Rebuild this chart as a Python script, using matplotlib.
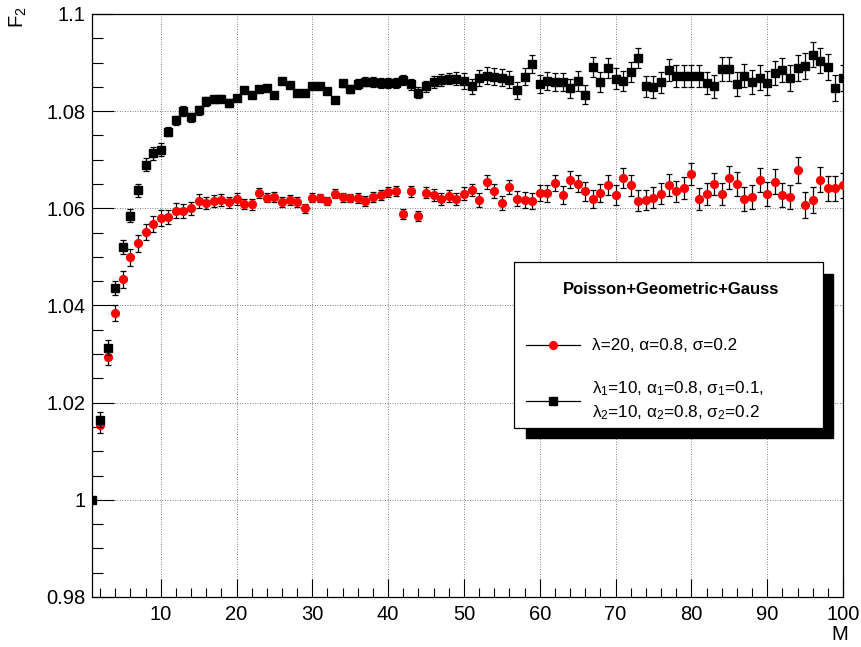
import matplotlib
matplotlib.use("Agg")
import matplotlib.pyplot as plt
from matplotlib.patches import Rectangle
from matplotlib.lines import Line2D
import numpy as np

plt.rcParams['font.family'] = ['Liberation Sans', 'DejaVu Sans']
plt.rcParams['mathtext.fontset'] = 'custom'
plt.rcParams['mathtext.rm'] = 'Liberation Sans'
plt.rcParams['mathtext.it'] = 'Liberation Sans'

M = list(range(1, 101))

# single source: lambda=20, alpha=0.8, sigma=0.2
f2_single = [
    1.0000, 1.0153, 1.0294, 1.0385, 1.0454, 1.0499, 1.0528, 1.0551, 1.0568, 1.0580,
    1.0582, 1.0595, 1.0594, 1.0600, 1.0615, 1.0611, 1.0615, 1.0617, 1.0612, 1.0619,
    1.0609, 1.0608, 1.0632, 1.0622, 1.0624, 1.0613, 1.0617, 1.0613, 1.0600, 1.0622,
    1.0621, 1.0615, 1.0630, 1.0623, 1.0621, 1.0621, 1.0615, 1.0623, 1.0627, 1.0634,
    1.0636, 1.0588, 1.0635, 1.0584, 1.0632, 1.0627, 1.0619, 1.0626, 1.0619, 1.0630,
    1.0638, 1.0617, 1.0654, 1.0636, 1.0611, 1.0644, 1.0620, 1.0617, 1.0615, 1.0632,
    1.0631, 1.0652, 1.0627, 1.0659, 1.0651, 1.0635, 1.0619, 1.0632, 1.0648, 1.0627,
    1.0662, 1.0647, 1.0616, 1.0617, 1.0622, 1.0630, 1.0648, 1.0635, 1.0642, 1.0671,
    1.0619, 1.0630, 1.0650, 1.0630, 1.0663, 1.0650, 1.0619, 1.0623, 1.0659, 1.0630,
    1.0655, 1.0628, 1.0624, 1.0679, 1.0607, 1.0617, 1.0659, 1.0641, 1.0641, 1.0647,
]
err_single = [
    0.0000, 0.0015, 0.0017, 0.0017, 0.0018, 0.0017, 0.0017, 0.0016, 0.0016, 0.0016,
    0.0015, 0.0015, 0.0014, 0.0014, 0.0014, 0.0013, 0.0013, 0.0012, 0.0012, 0.0012,
    0.0011, 0.0011, 0.0010, 0.0010, 0.0010, 0.0010, 0.0010, 0.0010, 0.0009, 0.0009,
    0.0009, 0.0009, 0.0009, 0.0009, 0.0009, 0.0010, 0.0010, 0.0010, 0.0010, 0.0010,
    0.0010, 0.0010, 0.0011, 0.0011, 0.0011, 0.0012, 0.0012, 0.0012, 0.0013, 0.0013,
    0.0013, 0.0014, 0.0014, 0.0014, 0.0015, 0.0015, 0.0015, 0.0016, 0.0016, 0.0017,
    0.0017, 0.0017, 0.0018, 0.0018, 0.0018, 0.0019, 0.0019, 0.0019, 0.0020, 0.0020,
    0.0021, 0.0021, 0.0021, 0.0021, 0.0022, 0.0022, 0.0022, 0.0022, 0.0022, 0.0022,
    0.0023, 0.0023, 0.0023, 0.0023, 0.0024, 0.0024, 0.0024, 0.0024, 0.0025, 0.0025,
    0.0025, 0.0025, 0.0025, 0.0026, 0.0026, 0.0026, 0.0026, 0.0026, 0.0026, 0.0026,
]

# two sources mixed
f2_mixed = [
    1.0000, 1.0165, 1.0313, 1.0436, 1.0520, 1.0585, 1.0637, 1.0690, 1.0713, 1.0721,
    1.0758, 1.0781, 1.0800, 1.0787, 1.0802, 1.0820, 1.0824, 1.0826, 1.0817, 1.0827,
    1.0843, 1.0833, 1.0845, 1.0847, 1.0833, 1.0862, 1.0853, 1.0838, 1.0838, 1.0851,
    1.0851, 1.0842, 1.0823, 1.0857, 1.0846, 1.0856, 1.0861, 1.0860, 1.0858, 1.0858,
    1.0858, 1.0864, 1.0855, 1.0838, 1.0851, 1.0860, 1.0864, 1.0867, 1.0867, 1.0862,
    1.0851, 1.0868, 1.0873, 1.0871, 1.0869, 1.0865, 1.0843, 1.0871, 1.0897, 1.0856,
    1.0862, 1.0860, 1.0860, 1.0847, 1.0862, 1.0834, 1.0891, 1.0860, 1.0889, 1.0867,
    1.0862, 1.0881, 1.0909, 1.0851, 1.0850, 1.0859, 1.0885, 1.0873, 1.0873, 1.0873,
    1.0872, 1.0858, 1.0851, 1.0887, 1.0887, 1.0856, 1.0873, 1.0860, 1.0869, 1.0858,
    1.0878, 1.0885, 1.0868, 1.0889, 1.0893, 1.0916, 1.0904, 1.0891, 1.0847, 1.0868,
]
err_mixed = [
    0.0000, 0.0015, 0.0015, 0.0014, 0.0015, 0.0014, 0.0014, 0.0014, 0.0014, 0.0013,
    0.0010, 0.0010, 0.0010, 0.0010, 0.0009, 0.0009, 0.0008, 0.0008, 0.0008, 0.0006,
    0.0006, 0.0006, 0.0006, 0.0006, 0.0006, 0.0006, 0.0006, 0.0006, 0.0006, 0.0006,
    0.0006, 0.0006, 0.0007, 0.0007, 0.0008, 0.0010, 0.0010, 0.0010, 0.0010, 0.0010,
    0.0010, 0.0011, 0.0011, 0.0011, 0.0011, 0.0012, 0.0012, 0.0012, 0.0013, 0.0016,
    0.0016, 0.0017, 0.0017, 0.0017, 0.0017, 0.0017, 0.0018, 0.0018, 0.0018, 0.0018,
    0.0019, 0.0019, 0.0019, 0.0019, 0.0020, 0.0020, 0.0021, 0.0021, 0.0021, 0.0021,
    0.0021, 0.0021, 0.0021, 0.0022, 0.0022, 0.0022, 0.0023, 0.0023, 0.0023, 0.0023,
    0.0023, 0.0023, 0.0024, 0.0024, 0.0024, 0.0024, 0.0024, 0.0025, 0.0025, 0.0025,
    0.0025, 0.0025, 0.0026, 0.0026, 0.0026, 0.0026, 0.0026, 0.0027, 0.0027, 0.0027,
]

label_single = "λ=20, α=0.8, σ=0.2"
label_mixed_1 = "λ$_1$=10, α$_1$=0.8, σ$_1$=0.1,"
label_mixed_2 = "λ$_2$=10, α$_2$=0.8, σ$_2$=0.2"
legend_title = "Poisson+Geometric+Gauss"

fig = plt.figure(figsize=(8.61, 6.47), dpi=100)
ax = fig.add_axes([0.1074, 0.0773, 0.8717, 0.9011])

ax.errorbar(M, f2_single, yerr=err_single, fmt='o', color='red', mec='red', ms=5.6,
            ecolor='black', elinewidth=0.9, capsize=2, capthick=0.9, zorder=3)
ax.errorbar(M, f2_mixed, yerr=err_mixed, fmt='s', color='black', ms=5.3,
            ecolor='black', elinewidth=0.9, capsize=2, capthick=0.9, zorder=4)

ax.set_xlim(1, 100)
ax.set_ylim(0.98, 1.1)
ax.set_xticks(np.arange(10, 101, 10))
ax.set_xticks(np.arange(2, 101, 2), minor=True)
ax.set_yticks(np.arange(0.98, 1.1001, 0.02))
ax.set_yticks(np.arange(0.98, 1.1001, 0.005), minor=True)
ax.set_yticklabels(['0.98', '1', '1.02', '1.04', '1.06', '1.08', '1.1'])
ax.tick_params(axis='both', which='both', direction='in', labelsize=14.5)
ax.tick_params(axis='x', which='major', length=13, width=0.8, pad=6)
ax.tick_params(axis='x', which='minor', length=6.5, width=0.8)
ax.tick_params(axis='y', which='major', length=16, width=0.8, pad=5)
ax.tick_params(axis='y', which='minor', length=8, width=0.8)
ax.grid(True, which='major', linestyle=(0, (1, 2)), color='#555555', linewidth=0.6)
ax.set_axisbelow(True)
for s in ax.spines.values():
    s.set_linewidth(0.9)

fig.text(840 / 861, 1 - 634 / 647, "M", fontsize=14.5, ha='center', va='center')
fig.text(18 / 861, 1 - 6 / 647, "F$_2$", fontsize=14.5, rotation=90, ha='center', va='top')

# legend box with drop shadow, in pixel coords
def px(x, y):
    return x / 861, 1 - y / 647

fig.patches.append(Rectangle(px(526, 438), 307 / 861, 164 / 647, transform=fig.transFigure,
                             facecolor='black', edgecolor='black', zorder=5))
fig.patches.append(Rectangle(px(514, 428), 309 / 861, 166 / 647, transform=fig.transFigure,
                             facecolor='white', edgecolor='black', linewidth=0.9, zorder=6))

fig.text(*px(671, 290), legend_title, fontsize=12, fontweight='bold', ha='center', va='center', zorder=7)

for yy, mk, col in [(345, 'o', 'red'), (401, 's', 'black')]:
    x0, y0 = px(526, yy)
    x1, _ = px(580, yy)
    xm, _ = px(553, yy)
    fig.add_artist(Line2D([x0, x1], [y0, y0], color='black', linewidth=0.9, transform=fig.transFigure, zorder=7))
    fig.add_artist(Line2D([xm], [y0], marker=mk, color=col, ms=5.5, linestyle='none', transform=fig.transFigure, zorder=8))

fig.text(*px(592, 345), label_single, fontsize=12.3, ha='left', va='center', zorder=7)
fig.text(*px(592, 389), label_mixed_1, fontsize=12.3, ha='left', va='center', zorder=7)
fig.text(*px(592, 413), label_mixed_2, fontsize=12.3, ha='left', va='center', zorder=7)

fig.savefig('out.png', dpi=100)
